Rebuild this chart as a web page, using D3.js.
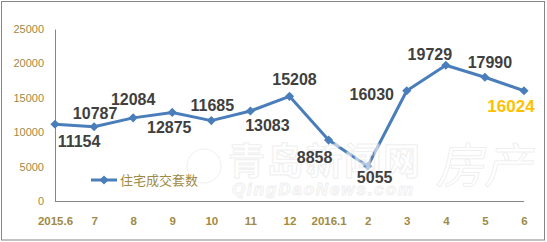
<!DOCTYPE html>
<html lang="zh">
<head>
<meta charset="utf-8">
<script src="https://cdn.jsdelivr.net/npm/d3@7"></script>
<style>
    body { margin: 0; background: #fff; }
    .axis path { stroke: #868686; }
    .axis text { fill: #A08A45; font-family: "Liberation Sans", Arial, sans-serif; }
</style>
</head>
<body>
<script type="text/javascript">

    /* data */
    var months = ["2015.6", "7", "8", "9", "10", "11", "12", "2016.1", "2", "3", "4", "5", "6"];
    var deals = [11154, 10787, 12084, 12875, 11685, 13083, 15208, 8858, 5055, 16030, 19729, 17990, 16024];
    var yTicks = [0, 5000, 10000, 15000, 20000, 25000];
    var seriesName = "住宅成交套数";

    /* label placement (dx, dy from the point) */
    var labelOffsets = [[24, 17], [1, -14], [0, -19], [-3, 15], [1, -15], [17, 14], [5, -17],
                        [-14, 17], [7, 11], [-35, 4], [-16, -11], [5, -15], [-13, 15]];

    var svgWidth = 547;
    var svgHeight = 242;

    var svg = d3.select("body").append("svg")
            .attr("width", svgWidth)
            .attr("height", svgHeight);

    /* frame */
    svg.append("rect")
            .attr("x", 1.5).attr("y", 1.5)
            .attr("width", 543).attr("height", 238.5)
            .style("fill", "#fff")
            .style("stroke", "#868686");

    var x = d3.scalePoint().domain(months).range([55, 524]);
    var y = d3.scaleLinear().domain([0, 25000]).range([201, 29]);

    /* axes */
    var yAxis = svg.append("g")
            .attr("class", "axis")
            .attr("transform", "translate(55, 0)")
            .call(d3.axisLeft(y).tickValues(yTicks).tickFormat(d3.format("d")).tickSize(0).tickPadding(11));
    yAxis.selectAll("text").style("font-size", "11px");

    var xAxis = svg.append("g")
            .attr("class", "axis")
            .attr("transform", "translate(0, 201)")
            .call(d3.axisBottom(x).tickSize(0).tickPadding(16));
    xAxis.select(".domain").attr("d", "M55,0.5H524");
    xAxis.selectAll("text")
            .style("font-size", "11.5px")
            .style("font-weight", "bold");

    /* line */
    var line = d3.line()
            .x(function(d, i) { return x(months[i]); })
            .y(function(d) { return y(d); });

    svg.append("path")
            .datum(deals)
            .attr("d", line)
            .style("fill", "none")
            .style("stroke", "#4A7EBB")
            .style("stroke-width", 3)
            .style("stroke-linejoin", "round");

    var diamond = d3.symbol().type(d3.symbolSquare).size(42);

    svg.append("g").selectAll("path")
            .data(deals)
            .enter()
            .append("path")
            .attr("d", diamond)
            .attr("transform", function(d, i) {
                return "translate(" + x(months[i]) + "," + y(d) + ") rotate(45)";
            })
            .style("fill", "#4A7EBB");

    /* watermark */
    var wm = svg.append("g").style("opacity", 0.6);
    wm.append("circle")
            .attr("cx", 204).attr("cy", 166).attr("r", 17)
            .style("fill", "none").style("stroke", "#fff").style("stroke-width", 7);
    wm.append("circle")
            .attr("cx", 204).attr("cy", 166).attr("r", 17)
            .style("fill", "none").style("stroke", "#e6e6e6").style("stroke-width", 1);
    wm.append("text")
            .attr("x", 228).attr("y", 175)
            .attr("textLength", 192)
            .style("font-family", "'Noto Sans CJK SC'")
            .style("font-weight", "bold")
            .style("font-size", "37px")
            .style("fill", "#fff")
            .style("stroke", "#e6e6e6")
            .style("stroke-width", 1)
            .text("青岛新闻网");
    wm.append("text")
            .attr("transform", "translate(436, 183) skewX(-12)")
            .style("font-family", "'Noto Sans CJK SC'")
            .style("font-size", "48px")
            .style("fill", "#fff")
            .style("stroke", "#e6e6e6")
            .style("stroke-width", 1)
            .text("房产");
    wm.append("text")
            .attr("x", 232).attr("y", 195)
            .attr("textLength", 181)
            .style("font-family", "'Liberation Sans'")
            .style("font-weight", "bold")
            .style("font-style", "italic")
            .style("font-size", "17px")
            .style("fill", "#fff")
            .style("stroke", "#e6e6e6")
            .style("stroke-width", 1)
            .text("QingDaoNews.com");

    /* data labels */
    svg.append("g").selectAll("text")
            .data(deals)
            .enter()
            .append("text")
            .attr("x", function(d, i) { return x(months[i]) + labelOffsets[i][0]; })
            .attr("y", function(d, i) { return y(d) + labelOffsets[i][1]; })
            .attr("dy", "0.36em")
            .attr("text-anchor", "middle")
            .style("font-family", "'Liberation Sans', Arial, sans-serif")
            .style("font-weight", "bold")
            .style("font-size", function(d, i) { return i === deals.length - 1 ? "17px" : "16px"; })
            .style("fill", function(d, i) { return i === deals.length - 1 ? "#FFC000" : "#404040"; })
            .text(function(d) { return d; });

    /* legend */
    var legend = svg.append("g").attr("transform", "translate(91, 180)");
    legend.append("line")
            .attr("x1", 0).attr("x2", 26)
            .style("stroke", "#4A7EBB")
            .style("stroke-width", 3);
    legend.append("path")
            .attr("d", diamond)
            .attr("transform", "translate(13, 0) rotate(45)")
            .style("fill", "#4A7EBB");
    legend.append("text")
            .attr("x", 29).attr("y", 5)
            .style("font-family", "'Noto Sans CJK SC'")
            .style("font-size", "13px")
            .style("fill", "#A08A45")
            .text(seriesName);

</script>
</body>
</html>
